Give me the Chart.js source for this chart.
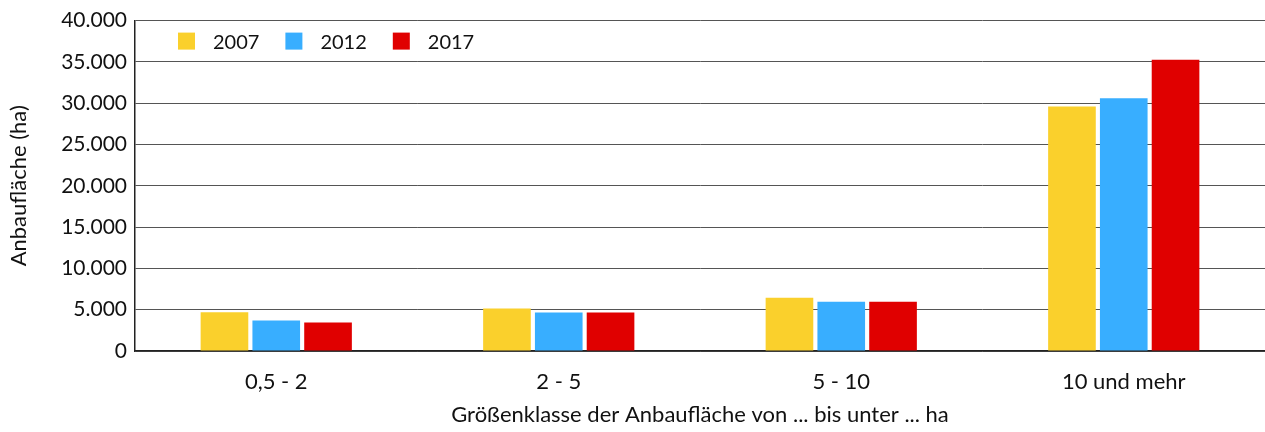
<!DOCTYPE html>
<html>
<head>
<meta charset="utf-8">
<script src="https://cdn.jsdelivr.net/npm/chart.js@4"></script>
<style>
  html, body { margin: 0; padding: 0; background: #fff; }
  #wrap { width: 1265px; height: 432px; }
</style>
</head>
<body>
<div id="wrap"><canvas id="chart"></canvas></div>
<script>
// Data
const categories = ['0,5 - 2', '2 - 5', '5 - 10', '10 und mehr'];
const years = ['2007', '2012', '2017'];
const values2007 = [4700, 5150, 6450, 29600];
const values2012 = [3700, 4650, 5950, 30600];
const values2017 = [3450, 4650, 5950, 35250];
const colors = ['#FAD02C', '#38AEFF', '#E00000'];

const FONT = 'Lato, "Open Sans", sans-serif';

// German thousands separator
const formatDE = (v) => String(v).replace(/\B(?=(\d{3})+(?!\d))/g, '.');

// Legend drawn inside the plot area, top left
const innerLegend = {
  id: 'innerLegend',
  afterDraw(chart) {
    const { ctx, chartArea } = chart;
    ctx.save();
    ctx.font = '20px ' + FONT;
    ctx.textBaseline = 'middle';
    let x = chartArea.left + 43;
    const y = chartArea.top + 12;
    chart.data.datasets.forEach((ds) => {
      ctx.fillStyle = ds.backgroundColor;
      ctx.fillRect(x, y, 17, 17);
      ctx.fillStyle = '#111';
      ctx.fillText(ds.label, x + 35, y + 10);
      x += 35 + ctx.measureText(ds.label).width + 26;
    });
    ctx.restore();
  },
};

const makeSet = (label, data, color) => ({
  label,
  data,
  backgroundColor: color,
  borderWidth: 0,
  categoryPercentage: 0.55,
  barPercentage: 0.92,
});

new Chart(document.getElementById('chart'), {
  type: 'bar',
  data: {
    labels: categories,
    datasets: [
      makeSet(years[0], values2007, colors[0]),
      makeSet(years[1], values2012, colors[1]),
      makeSet(years[2], values2017, colors[2]),
    ],
  },
  plugins: [innerLegend],
  options: {
    responsive: true,
    maintainAspectRatio: false,
    animation: false,
    layout: { padding: { top: 18, right: 0, left: 0, bottom: 0 } },
    plugins: {
      legend: { display: false },
      tooltip: { enabled: false },
    },
    scales: {
      x: {
        grid: { display: false, drawTicks: false },
        border: { display: true, color: '#222', width: 1.5 },
        ticks: { color: '#111', font: { family: FONT, size: 22 }, padding: 18 },
        title: {
          display: true,
          text: 'Größenklasse der Anbaufläche von ... bis unter ... ha',
          color: '#111',
          font: { family: FONT, size: 22 },
          padding: { top: 8, bottom: 4 },
        },
        afterFit: (scale) => { scale.height = 81; },
      },
      y: {
        min: 0,
        max: 40000,
        ticks: {
          stepSize: 5000,
          color: '#111',
          font: { family: FONT, size: 21 },
          padding: 8,
          callback: (v) => formatDE(v),
        },
        grid: { color: '#555', lineWidth: 1, drawTicks: false },
        border: { display: true, color: '#222', width: 1.5 },
        title: {
          display: true,
          text: 'Anbaufläche (ha)',
          color: '#111',
          font: { family: FONT, size: 22 },
          padding: { top: 6, bottom: 8 },
        },
        afterFit: (scale) => { scale.width = 135; },
      },
    },
  },
});
</script>
</body>
</html>
